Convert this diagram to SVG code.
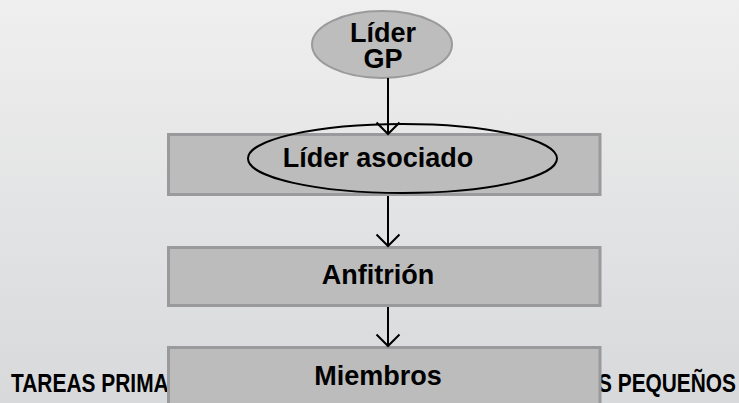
<svg xmlns="http://www.w3.org/2000/svg" width="739" height="403" viewBox="0 0 739 403">
  <defs>
    <linearGradient id="bg" x1="0" y1="0" x2="0" y2="1">
      <stop offset="0" stop-color="#efefef"/>
      <stop offset="1" stop-color="#d8d9db"/>
    </linearGradient>
    <marker id="arr" markerWidth="30" markerHeight="30" refX="13" refY="13" orient="auto" markerUnits="userSpaceOnUse">
      <path d="M1.5,1.5 L13,13 L1.5,24.5" fill="none" stroke="#000" stroke-width="2"/>
    </marker>
    <style>
      .box { fill: #bcbcbd; stroke: #9a9a9c; stroke-width: 3; }
      .lbl { font-family: "Liberation Sans", Arial, sans-serif; font-weight: bold; font-size: 27px; fill: #000; text-anchor: middle; }
      .ttl { font-family: "Liberation Sans", Arial, sans-serif; font-weight: bold; font-size: 25px; fill: #000; }
      .conn { stroke: #000; stroke-width: 2; fill: none; marker-end: url(#arr); }
    </style>
  </defs>
  <rect x="0" y="0" width="739" height="403" fill="url(#bg)"/>
  <g id="title">
    <text class="ttl" transform="translate(11,392) scale(0.837,1)">TAREAS PRIMA</text>
    <text class="ttl" transform="translate(598,392) scale(0.835,1)">S PEQUEÑOS</text>
  </g>
  <g id="lider-gp">
    <ellipse cx="382" cy="44.5" rx="70" ry="33.5" fill="#bdbdbd" stroke="#9a9a9a" stroke-width="2"/>
    <text class="lbl" x="383" y="42">Líder</text>
    <text class="lbl" x="383" y="68">GP</text>
  </g>
  <g id="lider-asociado">
    <rect class="box" x="168.5" y="134.5" width="431.5" height="60"/>
    <ellipse cx="402.5" cy="158.5" rx="154.5" ry="34.5" fill="none" stroke="#000" stroke-width="2"/>
    <text class="lbl" x="378" y="167">Líder asociado</text>
  </g>
  <g id="anfitrion">
    <rect class="box" x="168.5" y="247.5" width="431.5" height="58"/>
    <text class="lbl" x="378" y="284">Anfitrión</text>
  </g>
  <g id="miembros">
    <rect class="box" x="168.5" y="347.5" width="431.5" height="70"/>
    <text class="lbl" x="378" y="385">Miembros</text>
  </g>
  <g id="connectors">
    <line class="conn" x1="388" y1="78" x2="388" y2="134"/>
    <line class="conn" x1="388" y1="196" x2="388" y2="246"/>
    <line class="conn" x1="388" y1="307" x2="388" y2="346"/>
  </g>
</svg>
